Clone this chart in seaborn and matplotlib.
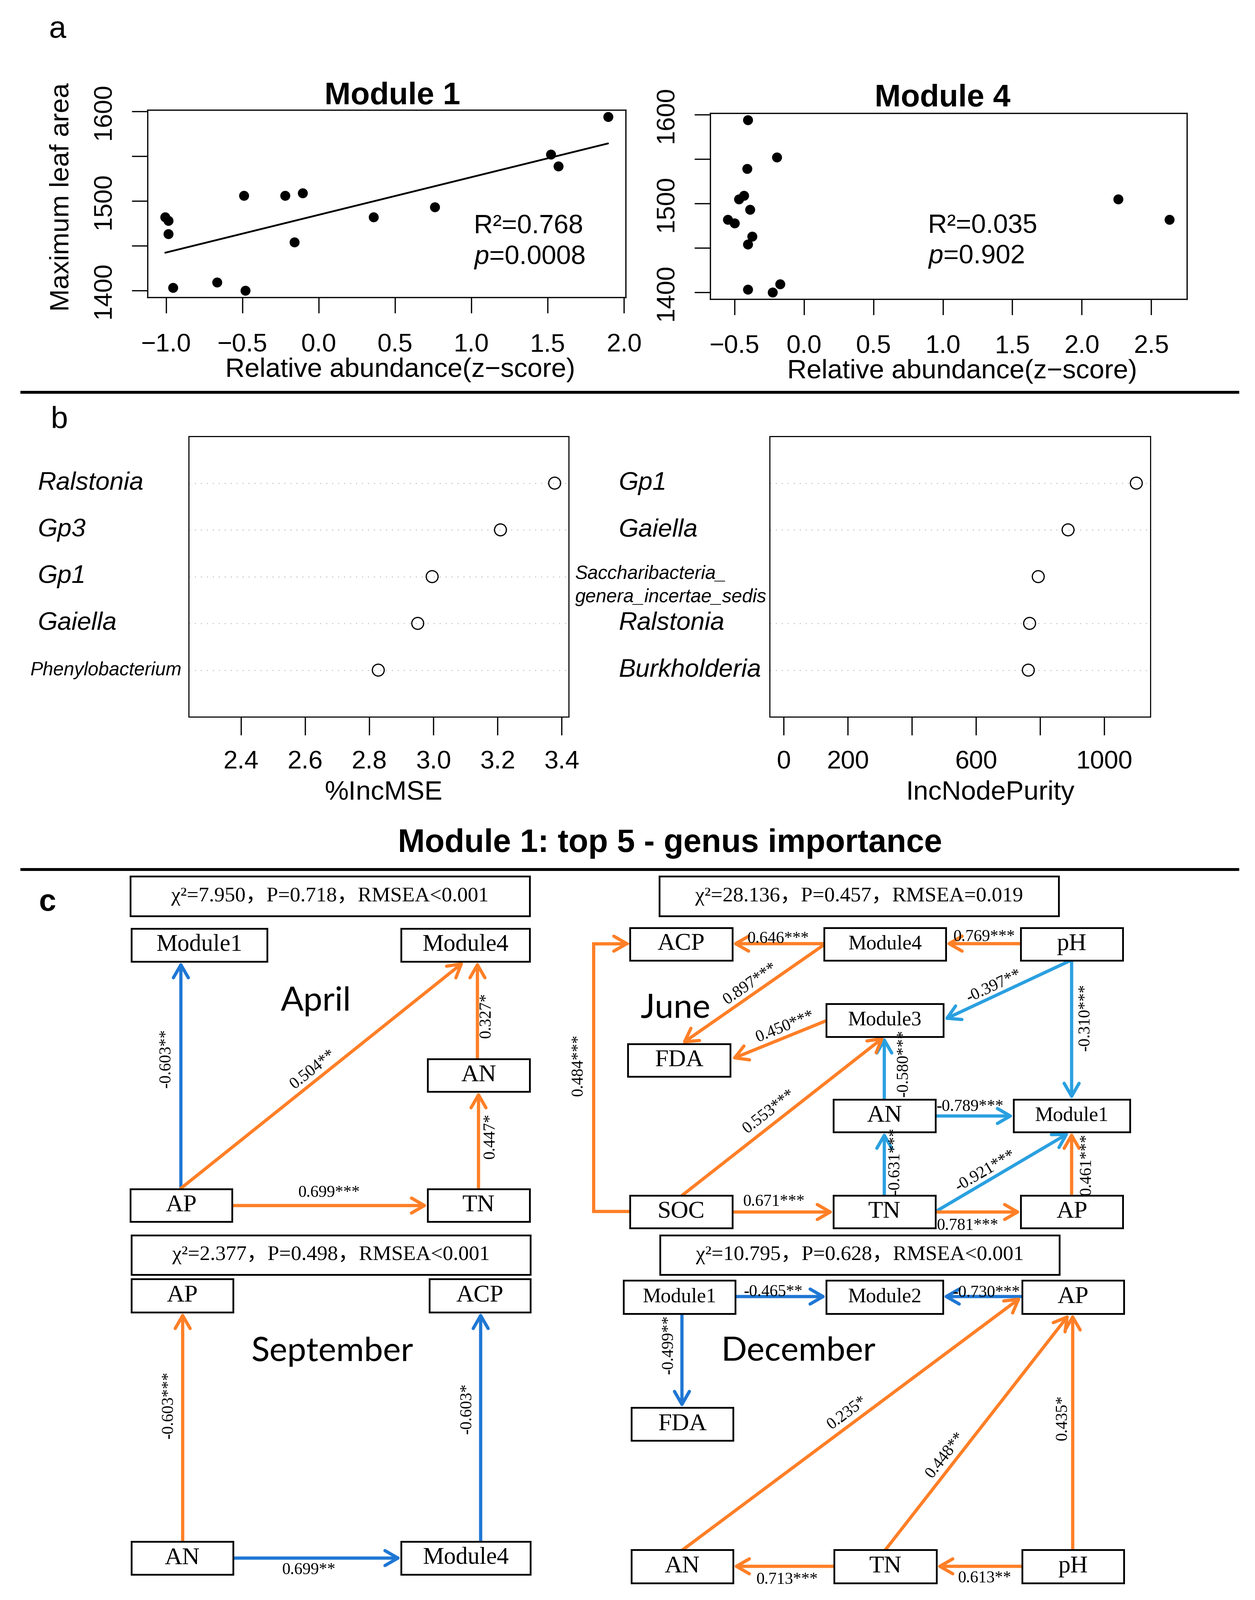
import numpy as np
import pandas as pd
import seaborn as sns
import matplotlib.pyplot as plt
import matplotlib.transforms as mtransforms
from matplotlib.patches import Rectangle, FancyArrowPatch, ArrowStyle
from matplotlib.path import Path

# ---------------- data ----------------
# panel a : maximum leaf area against module relative abundance (z-score)
m1_abund = [1.895, 1.52, 1.57, 0.76, 0.36, -0.105, -0.22, -0.49, -0.16,
            -1.005, -0.984, -0.986, -0.954, -0.665, -0.48]
m1_leaf = [1594, 1552, 1539, 1493, 1482, 1509, 1506, 1506, 1454,
           1482, 1478, 1463, 1403, 1409, 1400]
m4_abund = [-0.405, -0.195, -0.41, -0.433, -0.47, -0.388, -0.548, -0.5,
            -0.374, -0.405, -0.405, -0.173, -0.226, 2.262, 2.63]
m4_leaf = [1594, 1552, 1539, 1509, 1505, 1493, 1482, 1478,
           1463, 1454, 1403, 1409, 1400, 1505, 1482]
m1_r2, m1_p = "0.768", "0.0008"
m4_r2, m4_p = "0.035", "0.902"
m1_xticks = [-1.0, -0.5, 0.0, 0.5, 1.0, 1.5, 2.0]
m4_xticks = [-0.5, 0.0, 0.5, 1.0, 1.5, 2.0, 2.5]
leaf_ticks = [1400, 1450, 1500, 1550, 1600]

# panel b : random forest importance, top 5 genera
mse_genus = ["Ralstonia", "Gp3", "Gp1", "Gaiella", "Phenylobacterium"]
mse_value = [3.378, 3.209, 2.996, 2.951, 2.828]
purity_genus = ["Gp1", "Gaiella", "Saccharibacteria_\ngenera_incertae_sedis",
                "Ralstonia", "Burkholderia"]
purity_value = [1100, 887, 794, 767, 763]
mse_ticks = [2.4, 2.6, 2.8, 3.0, 3.2, 3.4]
purity_ticks = [0, 200, 400, 600, 800, 1000]
purity_ticklabels = ["0", "200", "", "600", "", "1000"]

# panel c : SEM paths (source, target, coefficient, colour o=orange b=blue)
april_fit = "χ²=7.950，P=0.718，RMSEA<0.001"
april_paths = [("AP", "Module1", "-0.603**", "b"),
               ("AP", "Module4", "0.504**", "o"),
               ("TN", "AN", "0.447*", "o"),
               ("AN", "Module4", "0.327*", "o"),
               ("AP", "TN", "0.699***", "o")]
june_fit = "χ²=28.136，P=0.457，RMSEA=0.019"
june_paths = [("Module4", "ACP", "0.646***", "o"),
              ("pH", "Module4", "0.769***", "o"),
              ("Module4", "FDA", "0.897***", "o"),
              ("Module3", "FDA", "0.450***", "o"),
              ("pH", "Module3", "-0.397**", "b"),
              ("pH", "Module1", "-0.310***", "b"),
              ("AN", "Module3", "-0.580***", "b"),
              ("AN", "Module1", "-0.789***", "b"),
              ("TN", "AN", "-0.631***", "b"),
              ("TN", "Module1", "-0.921***", "b"),
              ("AP", "Module1", "0.461***", "o"),
              ("SOC", "TN", "0.671***", "o"),
              ("TN", "AP", "0.781***", "o"),
              ("SOC", "Module3", "0.553***", "o"),
              ("SOC", "ACP", "0.484***", "o")]
sept_fit = "χ²=2.377，P=0.498，RMSEA<0.001"
sept_paths = [("AN", "AP", "-0.603***", "o"),
              ("Module4", "ACP", "-0.603*", "b"),
              ("AN", "Module4", "0.699**", "b")]
dec_fit = "χ²=10.795，P=0.628，RMSEA<0.001"
dec_paths = [("Module1", "Module2", "-0.465**", "b"),
             ("AP", "Module2", "-0.730***", "b"),
             ("Module1", "FDA", "-0.499**", "b"),
             ("AN", "AP", "0.235*", "o"),
             ("TN", "AP", "0.448**", "o"),
             ("pH", "AP", "0.435*", "o"),
             ("TN", "AN", "0.713***", "o"),
             ("pH", "TN", "0.613**", "o")]

# ---------------- layout of the path diagrams (pixels) ----------------
LAYOUT = {
    "April": dict(
        fit=(364, 2446, 1479, 2557), title=(882, 2795), module_fs=48,
        boxes={"Module1": (367, 2592, 746, 2684), "Module4": (1120, 2592, 1479, 2684),
               "AN": (1194, 2956, 1479, 3047), "AP": (364, 3319, 648, 3410),
               "TN": (1194, 3319, 1479, 3410)},
        lines=[[(505, 3319), (505, 2684)], [(505, 3317), (1295, 2685)],
               [(1336, 3319), (1336, 3047)], [(1333, 2956), (1333, 2684)],
               [(648, 3365), (1194, 3365)]],
        labels=[(464, 2955), (873, 2986), (1369, 3172), (1358, 2835), (918, 3330)]),
    "June": dict(
        fit=(1841, 2446, 2956, 2557), title=(1886, 2815), module_fs=41,
        boxes={"ACP": (1759, 2590, 2045, 2681), "Module4": (2301, 2590, 2641, 2681),
               "pH": (2850, 2590, 3135, 2681), "Module3": (2307, 2802, 2634, 2894),
               "FDA": (1753, 2914, 2039, 3005), "AN": (2327, 3069, 2612, 3160),
               "Module1": (2830, 3069, 3155, 3160), "SOC": (1759, 3337, 2045, 3428),
               "TN": (2327, 3337, 2612, 3428), "AP": (2850, 3337, 3135, 3428)},
        lines=[[(2301, 2634), (2045, 2634)], [(2850, 2634), (2641, 2634)],
               [(2305, 2634), (1904, 2913)], [(2307, 2849), (2043, 2956)],
               [(2989, 2681), (2636, 2846)], [(2992, 2681), (2992, 3069)],
               [(2469, 3069), (2469, 2894)], [(2612, 3115), (2830, 3115)],
               [(2469, 3337), (2469, 3160)], [(2612, 3382), (2985, 3162)],
               [(2992, 3337), (2992, 3160)], [(2045, 3383), (2327, 3383)],
               [(2612, 3383), (2850, 3383)], [(1904, 3337), (2469, 2894)],
               [(1759, 3381), (1657, 3381), (1657, 2634), (1759, 2634)]],
        labels=[(2172, 2621), (2747, 2616), (2095, 2747), (2192, 2866), (2775, 2753),
                (3030, 2840), (2523, 2968), (2708, 3090), (2499, 3241), (2751, 3269),
                (3034, 3251), (2160, 3355), (2701, 3422), (2147, 3103), (1615, 2974)]),
    "September": dict(
        fit=(367, 3448, 1481, 3558), title=(928, 3773), module_fs=48,
        boxes={"AP": (367, 3570, 651, 3663), "ACP": (1199, 3570, 1481, 3663),
               "AN": (367, 4303, 651, 4395), "Module4": (1120, 4303, 1481, 4395)},
        lines=[[(510, 4303), (510, 3663)], [(1342, 4303), (1342, 3663)],
               [(651, 4349), (1120, 4349)]],
        labels=[(471, 3922), (1304, 3932), (862, 4383)]),
    "December": dict(
        fit=(1843, 3448, 2958, 3558), title=(2229, 3771), module_fs=41,
        boxes={"Module1": (1741, 3574, 2053, 3667), "Module2": (2307, 3574, 2633, 3667),
               "AP": (2854, 3574, 3138, 3667), "FDA": (1763, 3929, 2047, 4021),
               "AN": (1763, 4326, 2047, 4419), "TN": (2329, 4326, 2615, 4419),
               "pH": (2854, 4326, 3138, 4419)},
        lines=[[(2053, 3619), (2307, 3619)], [(2854, 3619), (2633, 3619)],
               [(1904, 3667), (1904, 3929)], [(1906, 4326), (2851, 3621)],
               [(2472, 4326), (2985, 3669)], [(2995, 4326), (2995, 3667)],
               [(2329, 4372), (2047, 4372)], [(2854, 4372), (2615, 4372)]],
        labels=[(2159, 3607), (2754, 3609), (1867, 3754), (2365, 3944),
                (2639, 4062), (2967, 3958), (2197, 4410), (2749, 4406)]),
}

W, H, DPI = 3505, 4466, 100
ORANGE = "#FF7F27"
BLUE = "#1F77D4"
BLUE_JUNE = "#2AA0E0"
SANS = "Liberation Sans"
SERIF = ["Liberation Serif", "Noto Sans CJK SC"]

sns.set_style("ticks", {"axes.edgecolor": "black", "xtick.color": "black",
                        "ytick.color": "black", "text.color": "black",
                        "axes.labelcolor": "black"})
plt.rcParams["font.family"] = [SANS, "DejaVu Sans"]
plt.rcParams["mathtext.fontset"] = "custom"
plt.rcParams["mathtext.rm"] = SANS
plt.rcParams["mathtext.it"] = SANS + ":italic"

fig = plt.figure(figsize=(W / DPI, H / DPI), dpi=DPI)
fig.patch.set_facecolor("white")

# overlay in pixel coordinates for labels, separators and the diagrams
ov = fig.add_axes([0, 0, 1, 1])
ov.set_xlim(0, W)
ov.set_ylim(H, 0)
ov.axis("off")
ov.set_zorder(10)


def rect(x0, y0, x1, y1):
    return [x0 / W, 1 - y1 / H, (x1 - x0) / W, (y1 - y0) / H]


def r_range(v, lo=None):
    a = min(v) if lo is None else lo
    b = max(v)
    pad = 0.04 * (b - a)
    return a - pad, b + pad


# ---------------- panel a ----------------
def leaf_panel(box, x, y, xticks, fit, r2, p, stat_x, stat_y):
    ax = fig.add_axes(rect(*box))
    sns.scatterplot(x=x, y=y, ax=ax, color="black", s=400, linewidth=0, zorder=3)
    if fit:
        sns.regplot(x=x, y=y, ax=ax, scatter=False, ci=None, color="black",
                    line_kws={"lw": 3.6})
    ax.set_xlim(*r_range(x))
    ax.set_ylim(*r_range(y))
    ax.set_xticks(xticks, [f"{t:.1f}".replace("-", "\u2212") for t in xticks])
    ax.set_yticks(leaf_ticks, [str(t) if t % 100 == 0 else "" for t in leaf_ticks])
    ax.set_xlabel("")
    ax.set_ylabel("")
    for s in ax.spines.values():
        s.set_visible(True)
        s.set_linewidth(2.5)
        s.set_color("black")
    ax.tick_params(axis="both", direction="out", length=32, width=2.5,
                   labelsize=51, color="black")
    ax.tick_params(axis="x", pad=40)
    ax.tick_params(axis="y", pad=32, labelrotation=90)
    for lab in ax.get_yticklabels():
        lab.set_va("center")
    ax.text(stat_x, stat_y[0], "R²=" + r2, fontsize=53, ha="left", va="center")
    ax.text(stat_x, stat_y[1], "$\\it{p}$=" + p, fontsize=53, ha="left", va="center")
    return ax


leaf_panel((412, 307, 1747, 830), m1_abund, m1_leaf, m1_xticks, True,
           m1_r2, m1_p, 1.016, (1472, 1437))
leaf_panel((1983, 316, 3314, 835), m4_abund, m4_leaf, m4_xticks, False,
           m4_r2, m4_p, 0.894, (1475, 1440))

ov.text(160, 105, "a", fontsize=62, ha="center", va="baseline")
ov.text(1096, 291, "Module 1", fontsize=63, weight="bold", ha="center", va="baseline")
ov.text(2632, 297, "Module 4", fontsize=63, weight="bold", ha="center", va="baseline")
ov.text(172, 550, "Maximum leaf area", fontsize=54, rotation=90, ha="center", va="center")
ov.text(1117, 1052, "Relative abundance(z\u2212score)", fontsize=54, ha="center", va="baseline")
ov.text(2686, 1056, "Relative abundance(z\u2212score)", fontsize=54, ha="center", va="baseline")
ov.plot([57, 3460], [1095, 1095], color="black", lw=5.8, solid_capstyle="butt")


# ---------------- panel b ----------------
def importance_panel(box, vals, names, xlim, ticks, ticklabels, label_x, small, dotted):
    ax = fig.add_axes(rect(*box))
    pos = np.arange(len(vals), 0, -1)
    for yy, show in zip(pos, dotted):
        if show:
            ax.axhline(yy, color="#bdbdbd", lw=2, ls=(0, (1, 5)), zorder=1)
    sns.scatterplot(x=vals, y=pos, ax=ax, s=570, marker="o", zorder=3)
    pts = ax.collections[-1]
    pts.set_facecolor("none")
    pts.set_edgecolor("black")
    pts.set_linewidth(2.4)
    ax.set_xlim(*xlim)
    ax.set_ylim(0, len(vals) + 1)
    ax.set_yticks([])
    ax.set_xticks(ticks, ticklabels)
    ax.set_xlabel("")
    ax.set_ylabel("")
    for s in ax.spines.values():
        s.set_visible(True)
        s.set_linewidth(2.2)
        s.set_color("black")
    ax.tick_params(axis="x", direction="out", length=37, width=2.5, labelsize=51,
                   pad=30, color="black")
    ax.tick_params(axis="y", left=False)
    trans = mtransforms.blended_transform_factory(ov.transData, ax.transData)
    for yy, name, lx, sm in zip(pos, names, label_x, small):
        if "\n" in name:
            tr = mtransforms.offset_copy(trans, fig=fig, x=0, y=-25, units="dots")
            ax.text(lx, yy, name, transform=tr, fontsize=38, style="italic",
                    ha="left", va="center", linespacing=1.37)
        else:
            ax.text(lx, yy, name, transform=trans, fontsize=38 if sm else 51,
                    style="italic", ha="left", va="center")
    return ax


importance_panel((527, 1218, 1588, 2001), mse_value, mse_genus, (2.237, 3.422),
                 mse_ticks, [f"{t:.1f}" for t in mse_ticks],
                 [106, 106, 106, 106, 84], [False, False, False, False, True],
                 [True, True, True, True, True])
importance_panel((2149, 1218, 3212, 2001), purity_value, purity_genus,
                 r_range(purity_value, lo=0), purity_ticks, purity_ticklabels,
                 [1728, 1728, 1606, 1728, 1728], [False, False, True, False, False],
                 [True, True, False, True, True])

ov.text(165, 1194, "b", fontsize=62, ha="center", va="baseline")
ov.text(1071, 2232, "%IncMSE", fontsize=54, ha="center", va="baseline")
ov.text(2765, 2232, "IncNodePurity", fontsize=54, ha="center", va="baseline")
ov.text(1871, 2378, "Module 1: top 5 - genus importance", fontsize=65,
        weight="bold", ha="center", va="baseline")
ov.plot([57, 3460], [2427, 2427], color="black", lw=5.8, solid_capstyle="butt")


# ---------------- panel c ----------------
def draw_sem(name, fit, paths, lay, blue):
    x0, y0, x1, y1 = lay["fit"]
    ov.add_patch(Rectangle((x0, y0), x1 - x0, y1 - y0, fill=False, ec="black",
                           lw=3.6, zorder=3))
    ov.text((x0 + x1) / 2, (y0 + y1) / 2, fit, family=SERIF, fontsize=42,
            ha="center", va="center", zorder=4)
    ov.text(lay["title"][0], lay["title"][1], name, family=["Lato", "DejaVu Sans"],
            fontsize=68, ha="center", va="center")
    for node, (bx0, by0, bx1, by1) in lay["boxes"].items():
        fs = lay["module_fs"] if node.startswith("Module") else 49
        ov.add_patch(Rectangle((bx0, by0), bx1 - bx0, by1 - by0, fc="white",
                               ec="black", lw=3.6, zorder=3))
        ov.text((bx0 + bx1) / 2, (by0 + by1) / 2, node, family=SERIF, fontsize=fs,
                ha="center", va="center", zorder=4)
    style = ArrowStyle("->", head_length=26, head_width=15)
    for (src, tgt, coef, kind), pts, lxy in zip(paths, lay["lines"], lay["labels"]):
        col = ORANGE if kind == "o" else blue
        if len(pts) == 2:
            arr = FancyArrowPatch(pts[0], pts[1], arrowstyle=style, color=col, lw=6.5,
                                  shrinkA=0, shrinkB=0, mutation_scale=1, zorder=2)
        else:
            arr = FancyArrowPatch(path=Path(pts), arrowstyle=style, color=col, lw=6.5,
                                  mutation_scale=1, zorder=2, joinstyle="miter")
        ov.add_patch(arr)
        segs = list(zip(pts[:-1], pts[1:]))
        (ax0, ay0), (ax1, ay1) = max(segs, key=lambda s: np.hypot(s[1][0] - s[0][0],
                                                                  s[1][1] - s[0][1]))
        ang = np.degrees(np.arctan2(-(ay1 - ay0), ax1 - ax0))
        if ang <= -90:
            ang += 180
        if ang > 90:
            ang -= 180
        ov.text(lxy[0], lxy[1], coef, family=SERIF, fontsize=33, rotation=ang,
                rotation_mode="anchor", ha="center", va="center", zorder=5)


ov.text(133, 2542, "c", fontsize=62, weight="bold", ha="center", va="baseline")
draw_sem("April", april_fit, april_paths, LAYOUT["April"], BLUE)
draw_sem("June", june_fit, june_paths, LAYOUT["June"], BLUE_JUNE)
draw_sem("September", sept_fit, sept_paths, LAYOUT["September"], BLUE)
draw_sem("December", dec_fit, dec_paths, LAYOUT["December"], BLUE)

fig.savefig("out.png", dpi=DPI)
